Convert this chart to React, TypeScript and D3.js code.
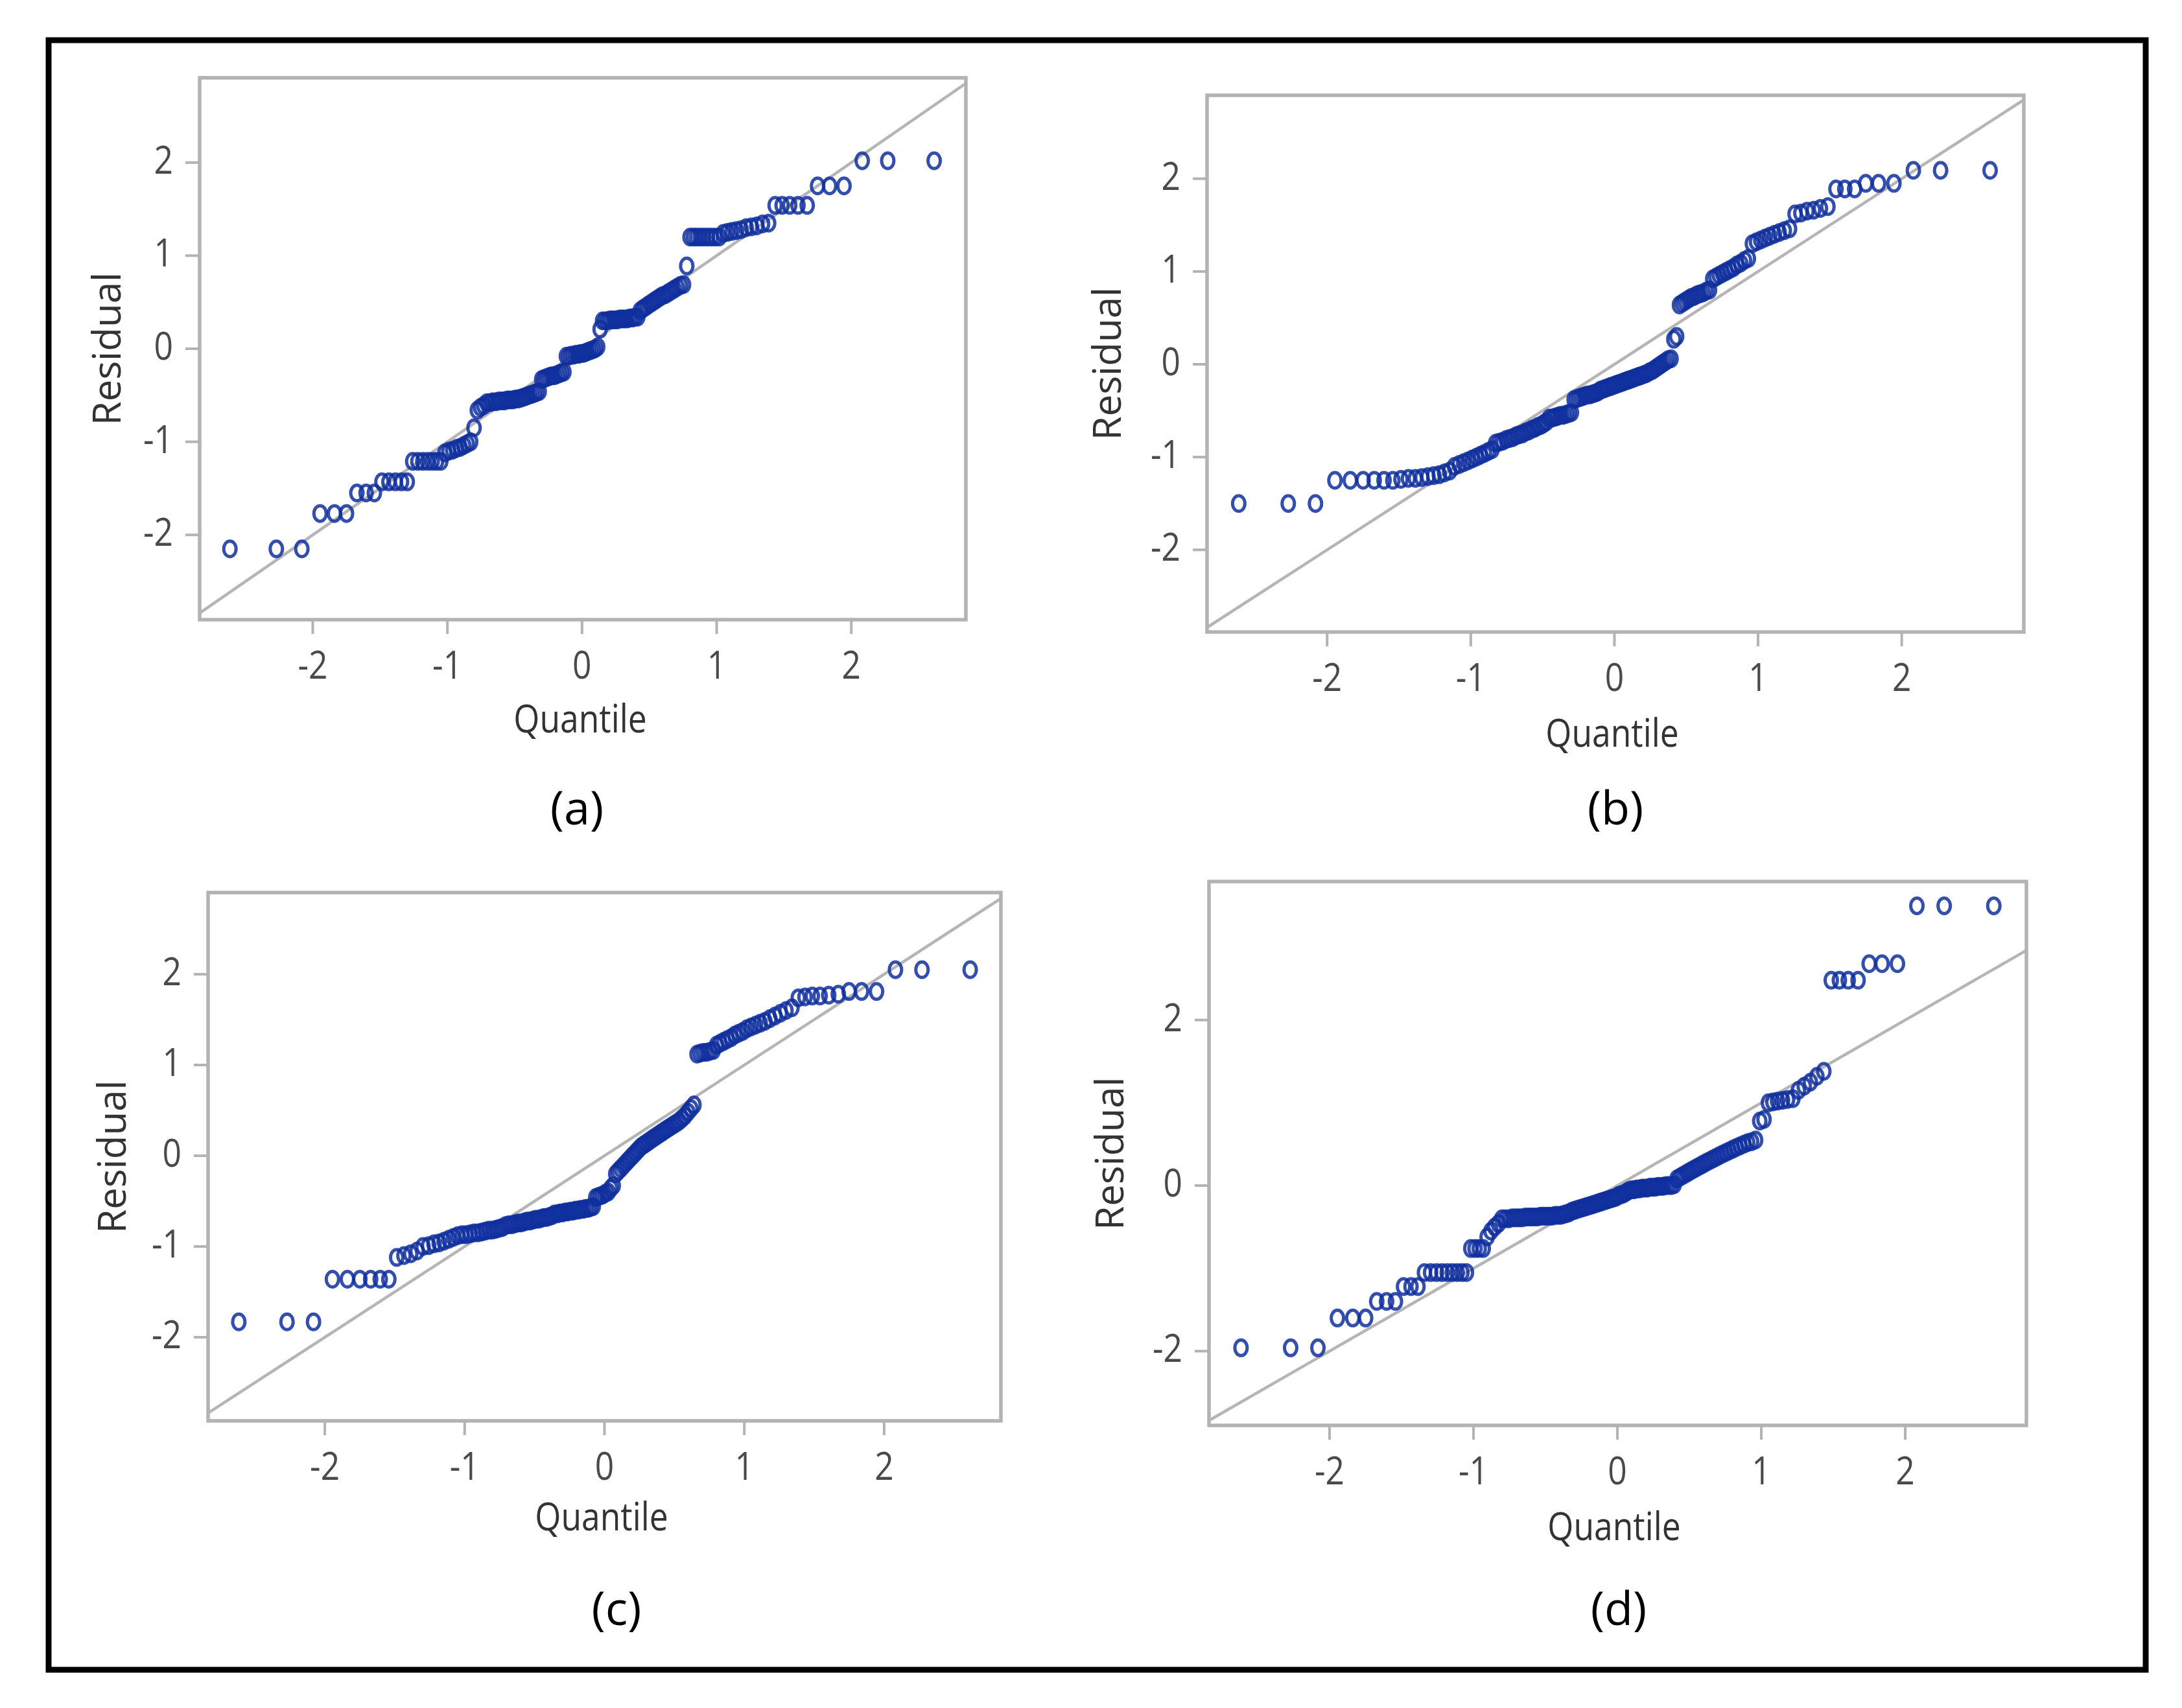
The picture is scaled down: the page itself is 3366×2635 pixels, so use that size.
import React from "react";
import * as d3 from "d3";

// ---- data (sorted studentized residuals) ----
const residualsA = [
  -2.15, -2.15, -2.15,
  -1.77, -1.77, -1.77,
  -1.55, -1.55, -1.55,
  -1.43, -1.43, -1.43, -1.43, -1.43,
  -1.21, -1.21, -1.21, -1.21, -1.21, -1.21, -1.21,
  -1.12, -1.10, -1.09, -1.07, -1.06, -1.04, -1.02, -1.0,
  -0.85,
  -0.66, -0.63, -0.61,
  -0.58, -0.58, -0.57, -0.57, -0.56, -0.56, -0.56, -0.55, -0.55, -0.55, -0.54, -0.54, -0.53, -0.52, -0.51, -0.5, -0.49, -0.48, -0.47, -0.46,
  -0.33, -0.32, -0.31, -0.3, -0.29, -0.29, -0.28, -0.27, -0.26, -0.25,
  -0.08, -0.08, -0.07, -0.07, -0.06, -0.06, -0.05, -0.05, -0.04, -0.03, -0.02, -0.01, 0.0, 0.02,
  0.21,
  0.3, 0.3, 0.3, 0.31, 0.31, 0.31, 0.31, 0.32, 0.32, 0.32, 0.32, 0.33, 0.33, 0.34, 0.34,
  0.41, 0.43, 0.45, 0.47, 0.49, 0.51, 0.53, 0.55, 0.57, 0.58, 0.6, 0.62, 0.64, 0.66, 0.68, 0.69,
  0.89,
  1.2, 1.2, 1.2, 1.2, 1.2, 1.2, 1.2, 1.2, 1.2,
  1.24, 1.25, 1.26, 1.27, 1.28, 1.3, 1.31, 1.32, 1.34, 1.35,
  1.54, 1.54, 1.54, 1.54, 1.54,
  1.75, 1.75, 1.75,
  2.02, 2.02, 2.02,
];

const residualsB = [
  -1.5, -1.5, -1.5,
  -1.25, -1.25, -1.25, -1.25, -1.25, -1.25,
  -1.24, -1.23, -1.23, -1.22, -1.21, -1.2, -1.19, -1.17, -1.15,
  -1.1, -1.08, -1.06, -1.04, -1.02, -1.0, -0.98, -0.96, -0.94, -0.92,
  -0.85, -0.84, -0.83, -0.81, -0.8, -0.79, -0.77, -0.76, -0.75, -0.73, -0.72, -0.7, -0.69, -0.67, -0.66, -0.64, -0.62,
  -0.58, -0.58, -0.57, -0.56, -0.55, -0.55, -0.54, -0.53, -0.52,
  -0.38, -0.37, -0.36, -0.35, -0.34, -0.33, -0.33, -0.32, -0.31, -0.3,
  -0.28, -0.27, -0.26, -0.25, -0.24, -0.23, -0.22, -0.21, -0.2, -0.19, -0.18, -0.17, -0.16, -0.15,
  -0.14, -0.13, -0.12, -0.11, -0.1, -0.08, -0.07, -0.05, -0.03, -0.01, 0.01, 0.03, 0.05, 0.06,
  0.27, 0.3,
  0.64, 0.66, 0.68, 0.7, 0.72, 0.73, 0.75, 0.76, 0.77, 0.79, 0.8,
  0.92, 0.94, 0.96, 0.98, 1.0, 1.02, 1.04, 1.07, 1.09, 1.12, 1.14,
  1.3, 1.32, 1.34, 1.36, 1.38, 1.4, 1.42, 1.44, 1.46,
  1.62, 1.63, 1.65, 1.66, 1.68, 1.7,
  1.89, 1.89, 1.89,
  1.95, 1.95, 1.95,
  2.09, 2.09, 2.09,
];

const residualsC = [
  -1.83, -1.83, -1.83,
  -1.36, -1.36, -1.36, -1.36, -1.36, -1.36,
  -1.12, -1.1, -1.08, -1.05,
  -1.0, -0.99, -0.97, -0.96, -0.94, -0.92, -0.9,
  -0.88, -0.87, -0.87, -0.86, -0.85, -0.85, -0.84, -0.83, -0.82, -0.82, -0.81, -0.8, -0.79,
  -0.77, -0.76, -0.76, -0.75, -0.74, -0.74, -0.73, -0.72, -0.72, -0.71, -0.7, -0.7, -0.69, -0.68, -0.68, -0.67, -0.66,
  -0.64, -0.64, -0.63, -0.63, -0.62, -0.62, -0.61, -0.61, -0.6, -0.6, -0.59, -0.59, -0.58, -0.58, -0.57, -0.56,
  -0.46, -0.45, -0.44, -0.43, -0.41, -0.4,
  -0.36, -0.33,
  -0.2, -0.17, -0.14, -0.11, -0.08, -0.05, -0.02, 0.01, 0.04, 0.07, 0.1, 0.12, 0.14, 0.16, 0.18,
  0.2, 0.22, 0.24, 0.26, 0.28, 0.3, 0.32, 0.34, 0.36, 0.38, 0.41, 0.44, 0.48, 0.52, 0.56,
  1.12, 1.13, 1.14, 1.14, 1.15, 1.16,
  1.22, 1.24, 1.26, 1.28, 1.3, 1.33, 1.35, 1.37, 1.4, 1.42, 1.44, 1.46, 1.48, 1.51, 1.54, 1.57, 1.6, 1.63,
  1.74, 1.75, 1.76, 1.76, 1.77, 1.78,
  1.81, 1.81, 1.81,
  2.05, 2.05, 2.05,
];

const residualsD = [
  -1.96, -1.96, -1.96,
  -1.6, -1.6, -1.6,
  -1.4, -1.4, -1.4,
  -1.22, -1.22, -1.22,
  -1.05, -1.05, -1.05, -1.05, -1.05, -1.05, -1.05, -1.05, -1.05,
  -0.76, -0.76, -0.76, -0.76,
  -0.62, -0.55, -0.5, -0.46,
  -0.4, -0.4, -0.4, -0.39, -0.39, -0.39, -0.39, -0.38, -0.38, -0.38, -0.38, -0.38,
  -0.37, -0.37, -0.37, -0.37, -0.37, -0.36, -0.36, -0.36, -0.35, -0.34, -0.33,
  -0.31, -0.3, -0.29, -0.28, -0.27, -0.26, -0.25, -0.24, -0.23, -0.22, -0.21,
  -0.2, -0.19, -0.18, -0.17, -0.16, -0.15, -0.14, -0.12, -0.11, -0.1, -0.08,
  -0.06, -0.05, -0.05, -0.04, -0.04, -0.03, -0.03, -0.03, -0.02, -0.02, -0.02, -0.01, -0.01, -0.01, 0.0, 0.0, 0.0, 0.01,
  0.08, 0.1, 0.12, 0.14, 0.16, 0.18, 0.2, 0.22, 0.24, 0.26, 0.28, 0.3, 0.32,
  0.34, 0.36, 0.38, 0.4, 0.42, 0.44, 0.46, 0.48, 0.5, 0.52, 0.53, 0.55,
  0.78, 0.8,
  1.0, 1.01, 1.02, 1.03, 1.04, 1.05,
  1.15, 1.2, 1.25, 1.32, 1.38,
  2.48, 2.48, 2.48, 2.48,
  2.68, 2.68, 2.68,
  3.38, 3.38, 3.38,
];

const xTickValues = [-2, -1, 0, 1, 2];
const yTickValuesABC = [-2, -1, 0, 1, 2];
const yTickValuesD = [-2, 0, 2];
const panelLabels = ["(a)", "(b)", "(c)", "(d)"];
const xTitle = "Quantile";
const yTitle = "Residual";

// ---- layout ----
const W = 3366;
const H = 2635;
const FONT = "'Open Sans', 'DejaVu Sans', sans-serif";

const panels = [
  {
    data: residualsA, label: panelLabels[0], yTicks: yTickValuesABC,
    x0: 308, x1: 1490, y0: 120, y1: 956,
    xDomain: [-2.84, 2.851], yDomain: [-2.911, 2.911],
    yTitleX: 186, xTitleY: 1130, labelY: 1272, titleCx: 895, labelCx: 890,
  },
  {
    data: residualsB, label: panelLabels[1], yTicks: yTickValuesABC,
    x0: 1862, x1: 3122, y0: 147, y1: 975,
    xDomain: [-2.836, 2.85], yDomain: [-2.885, 2.899],
    yTitleX: 1729, xTitleY: 1152, labelY: 1272, titleCx: 2487, labelCx: 2492,
  },
  {
    data: residualsC, label: panelLabels[2], yTicks: yTickValuesABC,
    x0: 321, x1: 1544, y0: 1377, y1: 2192,
    xDomain: [-2.835, 2.835], yDomain: [-2.921, 2.9],
    yTitleX: 194, xTitleY: 2361, labelY: 2507, titleCx: 928, labelCx: 951,
  },
  {
    data: residualsD, label: panelLabels[3], yTicks: yTickValuesD,
    x0: 1865, x1: 3126, y0: 1360, y1: 2199,
    xDomain: [-2.838, 2.842], yDomain: [-2.897, 3.673],
    yTitleX: 1733, xTitleY: 2376, labelY: 2507, titleCx: 2490, labelCx: 2497,
  },
];

// inverse standard normal CDF (Acklam)
function invNorm(p: number): number {
  const a = [-3.969683028665376e1, 2.209460984245205e2, -2.759285104469687e2, 1.38357751867269e2, -3.066479806614716e1, 2.506628277459239];
  const b = [-5.447609879822406e1, 1.615858368580409e2, -1.556989798598866e2, 6.680131188771972e1, -1.328068155288572e1];
  const c = [-7.784894002430293e-3, -3.223964580411365e-1, -2.400758277161838, -2.549732539343734, 4.374664141464968, 2.938163982698783];
  const d = [7.784695709041462e-3, 3.224671290700398e-1, 2.445134137142996, 3.754408661907416];
  const pl = 0.02425;
  if (p < pl) {
    const q = Math.sqrt(-2 * Math.log(p));
    return (((((c[0] * q + c[1]) * q + c[2]) * q + c[3]) * q + c[4]) * q + c[5]) /
      ((((d[0] * q + d[1]) * q + d[2]) * q + d[3]) * q + 1);
  }
  if (p > 1 - pl) {
    const q = Math.sqrt(-2 * Math.log(1 - p));
    return -(((((c[0] * q + c[1]) * q + c[2]) * q + c[3]) * q + c[4]) * q + c[5]) /
      ((((d[0] * q + d[1]) * q + d[2]) * q + d[3]) * q + 1);
  }
  const q = p - 0.5;
  const r = q * q;
  return (((((a[0] * r + a[1]) * r + a[2]) * r + a[3]) * r + a[4]) * r + a[5]) * q /
    (((((b[0] * r + b[1]) * r + b[2]) * r + b[3]) * r + b[4]) * r + 1);
}

const TICK_COLOR = "#4a4a4a";
const FRAME_COLOR = "#b3b3b3";
const MARKER = "#0f2f9e";
const SX = 0.86;

function Panel({ p, idx }: { p: any; idx: number }) {
  const x = d3.scaleLinear().domain(p.xDomain).range([p.x0, p.x1]);
  const y = d3.scaleLinear().domain(p.yDomain).range([p.y1, p.y0]);
  const n = p.data.length;
  const sorted = [...p.data].sort((a: number, b: number) => a - b);
  const pts = sorted.map((v: number, i: number) => ({
    q: invNorm((i + 1 - 0.375) / (n + 0.25)),
    r: v,
  }));
  const lo = Math.max(p.xDomain[0], p.yDomain[0]);
  const hi = Math.min(p.xDomain[1], p.yDomain[1]);
  const clipId = `clip-${idx}`;
  return (
    <g>
      <defs>
        <clipPath id={clipId}>
          <rect x={p.x0} y={p.y0} width={p.x1 - p.x0} height={p.y1 - p.y0} />
        </clipPath>
      </defs>
      <rect x={p.x0} y={p.y0} width={p.x1 - p.x0} height={p.y1 - p.y0} fill="#fff" />
      <line x1={x(lo)} y1={y(lo)} x2={x(hi)} y2={y(hi)} stroke="#b5b5b5" strokeWidth={4.5} clipPath={`url(#${clipId})`} />
      <g clipPath={`url(#${clipId})`}>
        {pts.map((d: any, i: number) => (
          <ellipse key={i} cx={x(d.q)} cy={y(d.r)} rx={9.5} ry={12} fill="none" stroke={MARKER} strokeWidth={5} strokeOpacity={0.85} />
        ))}
      </g>
      <rect x={p.x0} y={p.y0} width={p.x1 - p.x0} height={p.y1 - p.y0} fill="none" stroke={FRAME_COLOR} strokeWidth={5.5} />
      {xTickValues.map((t) => (
        <g key={`xt${t}`}>
          <line x1={x(t)} x2={x(t)} y1={p.y1} y2={p.y1 + 22} stroke={FRAME_COLOR} strokeWidth={4} />
          <text transform={`translate(${x(t)},${p.y1 + 91}) scale(${SX},1)`} textAnchor="middle" fontFamily={FONT} fontSize={60} fill={TICK_COLOR}>
            {t}
          </text>
        </g>
      ))}
      {p.yTicks.map((t: number) => (
        <g key={`yt${t}`}>
          <line x1={p.x0 - 22} x2={p.x0} y1={y(t)} y2={y(t)} stroke={FRAME_COLOR} strokeWidth={4} />
          <text transform={`translate(${p.x0 - 41},${y(t) + 17}) scale(${SX},1)`} textAnchor="end" fontFamily={FONT} fontSize={60} fill={TICK_COLOR}>
            {t}
          </text>
        </g>
      ))}
      <text transform={`translate(${p.yTitleX},${(p.y0 + p.y1) / 2}) rotate(-90)`} textAnchor="middle" fontFamily={FONT} fontSize={60} fill="#333">
        {yTitle}
      </text>
      <text transform={`translate(${p.titleCx},${p.xTitleY}) scale(${SX},1)`} textAnchor="middle" fontFamily={FONT} fontSize={60} fill="#333">
        {xTitle}
      </text>
      <text x={p.labelCx} y={p.labelY} textAnchor="middle" fontFamily={FONT} fontSize={72} fill="#000">
        {p.label}
      </text>
    </g>
  );
}

export default function App() {
  return (
    <svg width={W} height={H} viewBox={`0 0 ${W} ${H}`} style={{ position: "absolute", left: 0, top: 0, display: "block", background: "#fff" }}>
      <rect x={0} y={0} width={W} height={H} fill="#fff" />
      <rect x={75} y={62} width={3235} height={2514} fill="none" stroke="#000" strokeWidth={9} />
      {panels.map((p, i) => (
        <Panel key={i} p={p} idx={i} />
      ))}
    </svg>
  );
}
